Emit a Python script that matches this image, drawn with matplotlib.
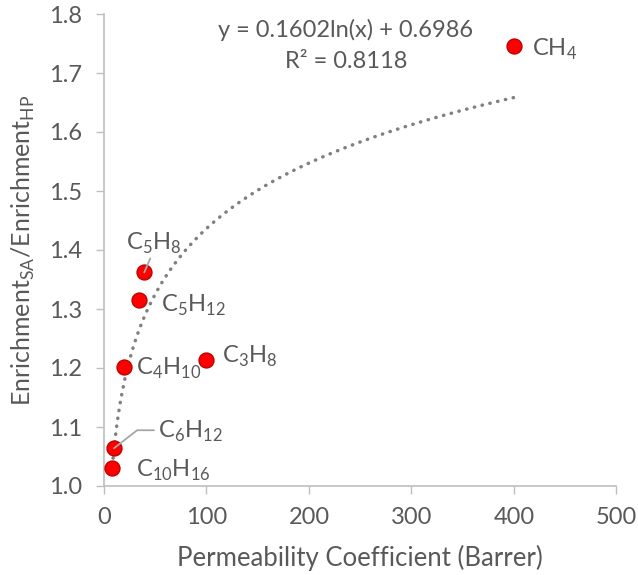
import numpy as np
import matplotlib
matplotlib.use("Agg")
import matplotlib.pyplot as plt

plt.rcParams['font.family'] = ['Lato', 'DejaVu Sans']
plt.rcParams['mathtext.fontset'] = 'custom'
plt.rcParams['mathtext.rm'] = 'Lato'

# data
names = [r'CH$_\mathregular{4}$', r'C$_\mathregular{5}$H$_\mathregular{8}$',
         r'C$_\mathregular{5}$H$_\mathregular{12}$', r'C$_\mathregular{4}$H$_\mathregular{10}$',
         r'C$_\mathregular{3}$H$_\mathregular{8}$', r'C$_\mathregular{6}$H$_\mathregular{12}$',
         r'C$_\mathregular{10}$H$_\mathregular{16}$']
permeability = [400, 39.3, 34.4, 19.8, 99.5, 9.8, 8.1]
enrichment = [1.745, 1.362, 1.315, 1.201, 1.214, 1.064, 1.030]
# label offsets in pixels (text left, baseline)
label_dx = [18, -18, 22, 12, 16, 44, 24]
label_dy = [-9, 23, -12, -7, -3, 10, -9]

fit_a, fit_b = 0.1602, 0.6986
r2 = 0.8118

txt = '#595959'
axc = '#BFBFBF'
fs = 17

fig = plt.figure(figsize=(6.38, 5.75), dpi=100)
ax = fig.add_axes([104/638, 1-486/575, 512.5/638, 472/575])

xs = np.linspace(min(permeability), max(permeability), 400)
ax.plot(xs, fit_a*np.log(xs) + fit_b, color='#808080', lw=2.5,
        linestyle=(0, (0.1, 2.2)), dash_capstyle='round', zorder=2)

ax.scatter(permeability, enrichment, s=115, color='#FF0000',
           edgecolor='#C00000', linewidth=1, zorder=3)

for name, x, y, dx, dy in zip(names, permeability, enrichment, label_dx, label_dy):
    ax.annotate(name, (x, y), xytext=(dx, dy), textcoords='offset pixels',
                ha='left', va='baseline', fontsize=fs, color=txt)

# leader lines
lc = dict(arrowstyle='-', color='#A6A6A6', lw=1.3, shrinkA=0, shrinkB=0)
ax.annotate('', xy=(permeability[1], enrichment[1]),
            xytext=(6, 14), textcoords='offset pixels', arrowprops=lc, zorder=4)
ax.annotate('', xy=(permeability[5], enrichment[5]), xytext=(40, 18),
            textcoords='offset pixels',
            arrowprops=dict(lc, connectionstyle='angle,angleA=0,angleB=38,rad=0'),
            zorder=4)

ax.text(0.472, 0.966, 'y = %.4fln(x) + %.4f' % (fit_a, fit_b), transform=ax.transAxes,
        ha='center', va='center', fontsize=fs, color=txt)
ax.text(0.472, 0.899, 'R² = %.4f' % r2, transform=ax.transAxes,
        ha='center', va='center', fontsize=fs, color=txt)

ax.set_xlim(0, 500)
ax.set_ylim(1.0, 1.8)
ax.set_xticks(range(0, 501, 100))
ax.set_yticks(np.arange(1.0, 1.81, 0.1))
ax.yaxis.set_major_formatter(matplotlib.ticker.FormatStrFormatter('%.1f'))
ax.tick_params(colors=axc, labelcolor=txt, labelsize=fs, length=6, width=1)
ax.tick_params(axis='x', pad=9)
ax.tick_params(axis='y', pad=10)
for s in ['top', 'right']:
    ax.spines[s].set_visible(False)
for s in ['left', 'bottom']:
    ax.spines[s].set_color(axc)
    ax.spines[s].set_linewidth(1.2)

ax.set_xlabel('Permeability Coefficient (Barrer)', fontsize=18.5, color=txt, labelpad=12)
ax.set_ylabel(r'Enrichment$_\mathregular{SA}$/Enrichment$_\mathregular{HP}$',
              fontsize=18, color=txt, labelpad=8)

fig.savefig('out.png', dpi=100)
